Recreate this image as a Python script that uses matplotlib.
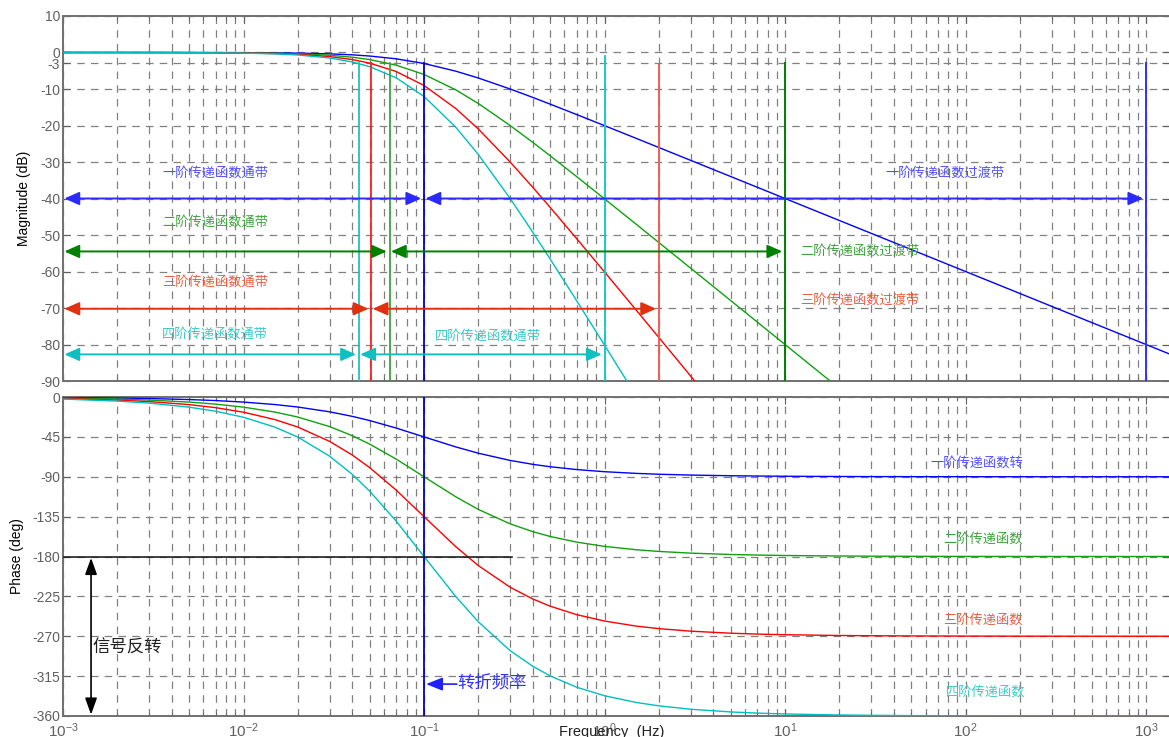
import matplotlib
matplotlib.use("Agg")
import matplotlib.pyplot as plt
import matplotlib.ticker as tck
import numpy as np

plt.rcParams['font.family'] = ['Liberation Sans', 'Noto Sans CJK SC', 'DejaVu Sans']
plt.rcParams['mathtext.default'] = 'regular'
plt.rcParams['axes.unicode_minus'] = False

cjk = ['Noto Sans CJK SC', 'DejaVu Sans']

# frequency samples (Hz) of the Bode curves
freq = [0.001, 0.002, 0.003, 0.005, 0.007, 0.01, 0.015, 0.02, 0.03, 0.04, 0.05,
        0.07, 0.1, 0.15, 0.2, 0.3, 0.4, 0.5, 0.7, 1, 1.5, 2, 3, 5, 7, 10, 20,
        30, 50, 100, 200, 500, 1000, 1340]

# magnitude (dB), 1st..4th order low-pass, corner at 0.1 Hz
mag1 = [0.0, 0.0, 0.0, -0.01, -0.02, -0.04, -0.1, -0.17, -0.37, -0.64, -0.97,
        -1.73, -3.01, -5.12, -6.99, -10.0, -12.3, -14.15, -16.99, -20.04, -23.54,
        -26.03, -29.55, -33.98, -36.9, -40.0, -46.02, -49.54, -53.98, -60.0,
        -66.02, -73.98, -80.0, -82.54]
mag2 = [0.0, 0.0, -0.01, -0.02, -0.04, -0.09, -0.19, -0.34, -0.75, -1.29, -1.94,
        -3.46, -6.02, -10.24, -13.98, -20.0, -24.61, -28.3, -33.98, -40.09, -47.08,
        -52.06, -59.09, -67.96, -73.8, -80.0, -92.04]
mag3 = [0.0, -0.01, -0.01, -0.03, -0.06, -0.13, -0.29, -0.51, -1.12, -1.93, -2.91,
        -5.2, -9.03, -15.36, -20.97, -30.0, -36.91, -42.45, -50.97, -60.13, -70.62,
        -78.09, -88.64, -101.94]
mag4 = [0.0, -0.01, -0.02, -0.04, -0.08, -0.17, -0.39, -0.68, -1.5, -2.58, -3.88,
        -6.93, -12.04, -20.48, -27.96, -40.0, -49.22, -56.6, -67.96, -80.17, -94.16]

# phase (deg)
ph1 = [-0.57, -1.15, -1.72, -2.86, -4.0, -5.71, -8.53, -11.31, -16.7, -21.8, -26.57,
       -34.99, -45.0, -56.31, -63.43, -71.57, -75.96, -78.69, -81.87, -84.29, -86.19,
       -87.14, -88.09, -88.85, -89.18, -89.43, -89.71, -89.81, -89.89, -89.94,
       -89.97, -89.99, -89.99, -90.0]
ph2 = [-1.15, -2.29, -3.44, -5.72, -8.0, -11.42, -17.06, -22.62, -33.4, -43.6, -53.13,
       -69.98, -90.0, -112.62, -126.87, -143.13, -151.93, -157.38, -163.74, -168.58,
       -172.37, -174.28, -176.18, -177.71, -178.36, -178.86, -179.43, -179.62,
       -179.77, -179.89, -179.94, -179.98, -179.99, -179.99]
ph3 = [-1.72, -3.44, -5.16, -8.59, -12.0, -17.14, -25.59, -33.93, -50.1, -65.41, -79.7,
       -104.97, -135.0, -168.93, -190.3, -214.7, -227.89, -236.07, -245.61, -252.86,
       -258.56, -261.41, -264.27, -266.56, -267.55, -268.28, -269.14, -269.43,
       -269.66, -269.83, -269.91, -269.97, -269.98, -269.99]
ph4 = [-2.29, -4.58, -6.87, -11.45, -16.0, -22.85, -34.12, -45.24, -66.79, -87.21,
       -106.26, -139.97, -180.0, -225.24, -253.74, -286.26, -303.85, -314.76, -327.48,
       -337.15, -344.75, -348.55, -352.37, -355.42, -356.73, -357.71, -358.85,
       -359.24, -359.54, -359.77, -359.89, -359.96, -359.98, -359.98]

# -3 dB points of each order, and the edge of each transition band
cutoff = [0.1, 0.0644, 0.051, 0.0435]
band_end = [1000, 10, 2, 1]
band_top = [-3, -3, -3.5, -1]
arrow_db = [-40, -54.5, -70.2, -82.7]
pass_text = ['一阶传递函数通带', '二阶传递函数通带', '三阶传递函数通带', '四阶传递函数通带']
pass_text_db = [-33.1, -46.5, -62.9, -77.1]
phase_text = ['一阶传递函数转', '二阶传递函数', '三阶传递函数', '四阶传递函数']
phase_text_pos = [(64, -74.5), (75, -160.3), (75, -251.7), (78, -333)]

curve_col = ['#0000ff', '#10a010', '#ff0000', '#00bfbf']
arrow_col = ['#2a2aff', '#008000', '#e03010', '#10c0c0']
text_col = ['#5050ff', '#40a040', '#e86040', '#40c8c8']
vline_col = ['#3030ff', '#008000', '#f06050', '#20c8c8']
cut_col = ['#0000c0', '#40a040', '#ff2020', '#20c0c0']

mags = [mag1, mag2, mag3, mag4]
phases = [ph1, ph2, ph3, ph4]

fig = plt.figure(figsize=(11.69, 7.37), dpi=100)
ax1 = fig.add_axes([0.0539, 0.4830, 0.9461, 0.4953])
ax2 = fig.add_axes([0.0539, 0.0285, 0.9461, 0.4328])

dash = (0, (6, 5))
for ax in (ax1, ax2):
    ax.set_xscale('log')
    ax.set_xlim(1e-3, 1340)
    ax.xaxis.set_major_locator(tck.LogLocator(base=10, numticks=12))
    ax.xaxis.set_minor_locator(tck.LogLocator(base=10, subs=np.arange(2, 10), numticks=12))
    ax.grid(True, which='major', color='#808080', linestyle=dash, linewidth=0.9)
    ax.grid(True, which='minor', axis='x', color='#808080', linestyle=dash, linewidth=0.9)
    ax.tick_params(which='both', direction='in', top=True, right=True,
                   colors='#606060', labelsize=10, pad=2)
    ax.tick_params(which='major', length=5)
    ax.tick_params(which='minor', length=3)
    for s in ax.spines.values():
        s.set_color('#707070')
        s.set_linewidth(1.4)
    ax.spines['right'].set_visible(False)

ax2.tick_params(axis='x', labelsize=11, pad=4)

# magnitude plot
ax1.set_ylim(-90, 10)
ax1.set_yticks([10, 0, -3, -10, -20, -30, -40, -50, -60, -70, -80, -90])
ax1.tick_params(axis='x', labelbottom=False)
ax1.set_ylabel('Magnitude (dB)', fontsize=10)
ax1.yaxis.set_label_coords(-0.0285, 0.5)

for i in range(4):
    ax1.plot(freq[:len(mags[i])], mags[i], color=curve_col[i], lw=1.0, zorder=3)

# vertical markers at the -3 dB points and at the band edges
for i in range(4):
    ax1.plot([cutoff[i], cutoff[i]], [-3, -90], color=cut_col[i], lw=1.3, zorder=4)
    ax1.plot([band_end[i], band_end[i]], [band_top[i], -90], color=vline_col[i],
             lw=1.4, zorder=4)


def dbl_arrow(ax, x0, x1, y, color):
    ax.annotate('', xy=(x1, y), xytext=(x0, y),
                arrowprops=dict(arrowstyle='<|-|>,head_length=0.45,head_width=0.2',
                                color=color, lw=1.4, shrinkA=1, shrinkB=2,
                                mutation_scale=20),
                zorder=5)


for i in range(4):
    dbl_arrow(ax1, 1e-3, cutoff[i], arrow_db[i], arrow_col[i])
    dbl_arrow(ax1, cutoff[i], band_end[i], arrow_db[i], arrow_col[i])
    ax1.text(0.00695, pass_text_db[i], pass_text[i], color=text_col[i],
             fontsize=9.5, ha='center', va='center', family=cjk)

ax1.text(76.9, -33.1, '一阶传递函数过渡带', color=text_col[0], fontsize=9.5,
         ha='center', va='center', family=cjk)
ax1.text(12.1, -54.4, '二阶传递函数过渡带', color=text_col[1], fontsize=9.5,
         ha='left', va='center', family=cjk)
ax1.text(12.1, -67.8, '三阶传递函数过渡带', color=text_col[2], fontsize=9.5,
         ha='left', va='center', family=cjk)
ax1.text(0.2265, -77.7, '四阶传递函数通带', color=text_col[3], fontsize=9.5,
         ha='center', va='center', family=cjk)

# phase plot
ax2.set_ylim(-360, 0)
ax2.set_yticks(np.arange(0, -361, -45))
ax2.set_ylabel('Phase (deg)', fontsize=10)
ax2.yaxis.set_label_coords(-0.035, 0.5)

for i in range(4):
    ax2.plot(freq, phases[i], color=curve_col[i], lw=1.0, zorder=3)

ax2.axvline(cutoff[0], color='#0000c0', lw=1.3, zorder=4)
ax2.plot([1e-3, 0.308], [-180, -180], color='#202020', lw=1.2, zorder=4)
ax2.annotate('', xy=(0.00143, -360), xytext=(0.00143, -180),
             arrowprops=dict(arrowstyle='<|-|>,head_length=0.5,head_width=0.18',
                             color='black', lw=1.2, shrinkA=1, shrinkB=1,
                             mutation_scale=20))
ax2.text(0.00146, -283, '信号反转', fontsize=12.5, color='#202020',
         ha='left', va='center', family=cjk)

ax2.annotate('', xy=(0.1026, -324), xytext=(0.152, -324),
             arrowprops=dict(arrowstyle='-|>,head_length=0.5,head_width=0.2',
                             color='#2020ff', lw=1.2, shrinkA=0, shrinkB=0,
                             mutation_scale=20))
ax2.text(0.152, -322, '转折频率', fontsize=12.5, color='#3030ff',
         ha='left', va='center', family=cjk)

for i in range(4):
    ax2.text(phase_text_pos[i][0], phase_text_pos[i][1], phase_text[i],
             color=text_col[i], fontsize=9.5, ha='left', va='center', family=cjk)

fig.text(612 / 1169, 0.0015, 'Frequency  (Hz)', fontsize=10.5, color='#202020',
         ha='center', va='baseline')

fig.savefig('out.png', dpi=100)
